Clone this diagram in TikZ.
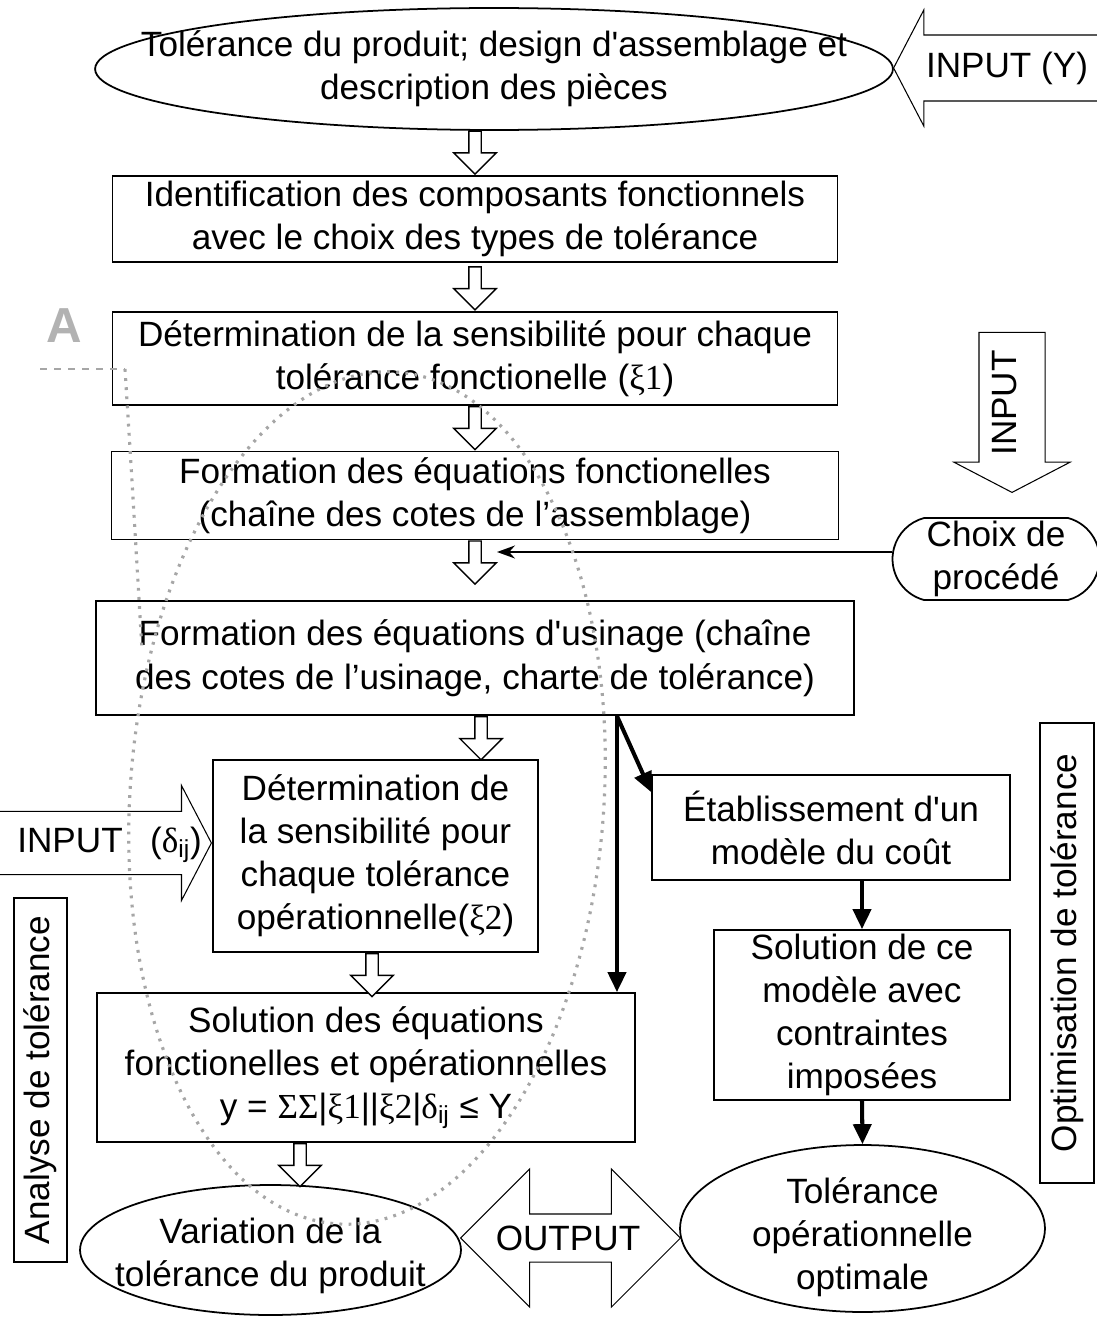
\documentclass[tikz,border=0pt]{standalone}
\usepackage{fontspec}
\setmainfont{Liberation Sans}
\newfontfamily\symb{Liberation Serif}
\usetikzlibrary{shapes.geometric, shapes.arrows, shapes.misc, arrows.meta, positioning, calc}

\begin{document}
\begin{tikzpicture}[x=0.02cm, y=-0.02cm,
  every node/.style={font=\fontsize{20}{24.5}\selectfont},
  process/.style={rectangle, draw=black, line width=1pt, align=center, inner sep=0pt},
  oval/.style={ellipse, draw=black, line width=1pt, inner sep=0pt},
  pill/.style={rounded rectangle, rounded rectangle arc length=150, draw=black, line width=1pt, align=center, inner sep=0pt},
  side/.style={rectangle, draw=black, line width=0.8pt, rotate=90, inner sep=0pt},
  hollow/.style={single arrow, draw=black, line width=0.8pt, fill=white, rotate=-90, inner xsep=0pt, inner ysep=0.11cm, minimum height=0.86cm, minimum width=0.82cm, single arrow head extend=0.3cm},
  bigarrow/.style={single arrow, draw=black, line width=0.6pt, inner xsep=0pt, inner ysep=0.65cm, minimum width=2.3cm, single arrow head extend=0.5cm, single arrow tip angle=125},
  arrow/.style={line width=2.3pt, -{Triangle[length=0.4cm, width=0.36cm]}},
  thinarrow/.style={line width=1pt, -{Stealth[length=0.36cm, width=0.26cm]}},
  zone/.style={gray!70, line width=1.8pt, dash pattern=on 1.6pt off 3.6pt},
  pointer/.style={gray!70, line width=1.2pt, dash pattern=on 4pt off 4pt}]

  \useasboundingbox (0,0) rectangle (1097,1318);

  % Nodes
  \node (prod) [oval, minimum width=15.96cm, minimum height=2.44cm,
    label={[align=center]center:{Tolérance du produit; design d\textquotesingle assemblage et\\description des pièces}}] at (494,69) {};
  \node (ident) [process, minimum width=14.5cm, minimum height=1.72cm] at (475,219) {Identification des composants fonctionnels\\avec le choix des types de tolérance};
  \node (sensi) [process, minimum width=14.5cm, minimum height=1.86cm, below=0.96cm of ident] {Détermination de la sensibilité pour chaque\\tolérance fonctionelle ({\symb ξ1})};
  \node (equfonc) [process, minimum width=14.54cm, minimum height=1.76cm, below=0.9cm of sensi] {Formation des équations fonctionelles\\(chaîne des cotes de l’assemblage)};
  \node (equusin) [process, minimum width=15.16cm, minimum height=2.28cm, below=1.2cm of equfonc] {Formation des équations d\textquotesingle usinage (chaîne\\des cotes de l’usinage, charte de tolérance)};

  \node (sensiop) [process, minimum width=6.5cm, minimum height=3.84cm] at (375.5,856) {Détermination de\\la sensibilité pour\\chaque tolérance\\opérationnelle({\symb ξ2})};
  \node (solution) [process, minimum width=10.76cm, minimum height=2.98cm] at (366,1067.5) {Solution des équations\\fonctionelles et opérationnelles\\y = {\symb ΣΣ}|{\symb ξ1}||{\symb ξ2}|{\symb δ}\textsubscript{ij} ≤ Y};
  \node (cout) [process, minimum width=7.16cm, minimum height=2.1cm] at (831,827.5) {Établissement d\textquotesingle un\\modèle du coût};
  \node (modele) [process, minimum width=5.92cm, minimum height=3.4cm] at (862,1015) {Solution de ce\\modèle avec\\contraintes\\imposées};
  \node (choix) [pill, minimum width=4.14cm, minimum height=1.64cm] at (996,559) {Choix de\\procédé};

  \node (variation) [oval, minimum width=7.62cm, minimum height=2.6cm,
    label={[align=center, yshift=-0.12cm]center:{Variation de la\\tolérance du produit}}] at (270.5,1250) {};
  \node (optimale) [oval, minimum width=7.3cm, minimum height=3.34cm,
    label={[align=center, yshift=-0.17cm]center:{Tolérance\\opérationnelle\\optimale}}] at (862.5,1228.5) {};

  \node (analyse) [side, minimum width=7.28cm, minimum height=1.06cm] at (40.5,1080) {Analyse de tolérance};
  \node (optim) [side, minimum width=9.2cm, minimum height=1.08cm] at (1067,953) {Optimisation de tolérance};

  % Block arrows
  \node (inputy) [bigarrow, rotate=180, anchor=tip, minimum height=4.3cm] at (893,68) {};
  \node (inputytext) at (1007,68) {INPUT (Y)};
  \node (inputv) [bigarrow, rotate=-90, anchor=tip, minimum height=3.2cm] at (1012,493) {};
  \node (inputvtext) [rotate=90] at (1005,403) {INPUT};
  \node (inputd) [bigarrow, inner ysep=0.6cm, anchor=tip, minimum height=4.7cm] at (212,843) {};
  \node (inputdtext) [anchor=west, inner sep=0pt] at (17,845) {INPUT\enspace\ ({\symb δ}\textsubscript{ij})};
  \node (output) [double arrow, draw=black, line width=0.6pt, inner xsep=0pt, inner ysep=0.47cm, minimum width=2.74cm, minimum height=4.4cm, double arrow head extend=0.9cm, double arrow tip angle=90] at (570.5,1238) {};
  \node (outputtext) at (568,1238) {OUTPUT};

  \node (h1) [hollow, anchor=tip] at (ident.north) {};
  \node (h2) [hollow, anchor=tip] at (sensi.north) {};
  \node (h3) [hollow, anchor=tip] at (equfonc.north) {};
  \node (h4) [hollow, anchor=tail] at (equfonc.south) {};
  \node (h5) [hollow, anchor=tail] at ([xshift=0.12cm]equusin.south) {};
  \node (h6) [hollow, anchor=tail] at ([xshift=-0.07cm]sensiop.south) {};
  \node (h7) [hollow, anchor=tail] at ([xshift=-1.32cm]solution.south) {};

  % Arrows
  \coordinate (split) at ([xshift=2.84cm]equusin.south);
  \coordinate (choixend) at (497,552);
  \draw [thinarrow] (choixend -| choix.west) -- (choixend);
  \draw [arrow] (split) -- (split |- solution.north);
  \draw [arrow] (split) -- ([yshift=-0.36cm]cout.north west);
  \draw [arrow] (cout.south -| modele.north) -- (modele.north);
  \draw [arrow] (modele.south) -- (optimale.north);

  % Zone A
  \node (zonea) [text=gray!60, font=\fontsize{28}{30}\selectfont\bfseries] at (64,326) {A};
  \coordinate (apoint) at (125,369);
  \draw [pointer] (zonea.south west |- apoint) -- (apoint);
  \draw [zone] (apoint) .. controls (132,480) .. (142,650);
  \draw [zone, rotate around={-4:(367,798)}] (367,798) ellipse [x radius=4.74cm, y radius=8.54cm];

\end{tikzpicture}
\end{document}
